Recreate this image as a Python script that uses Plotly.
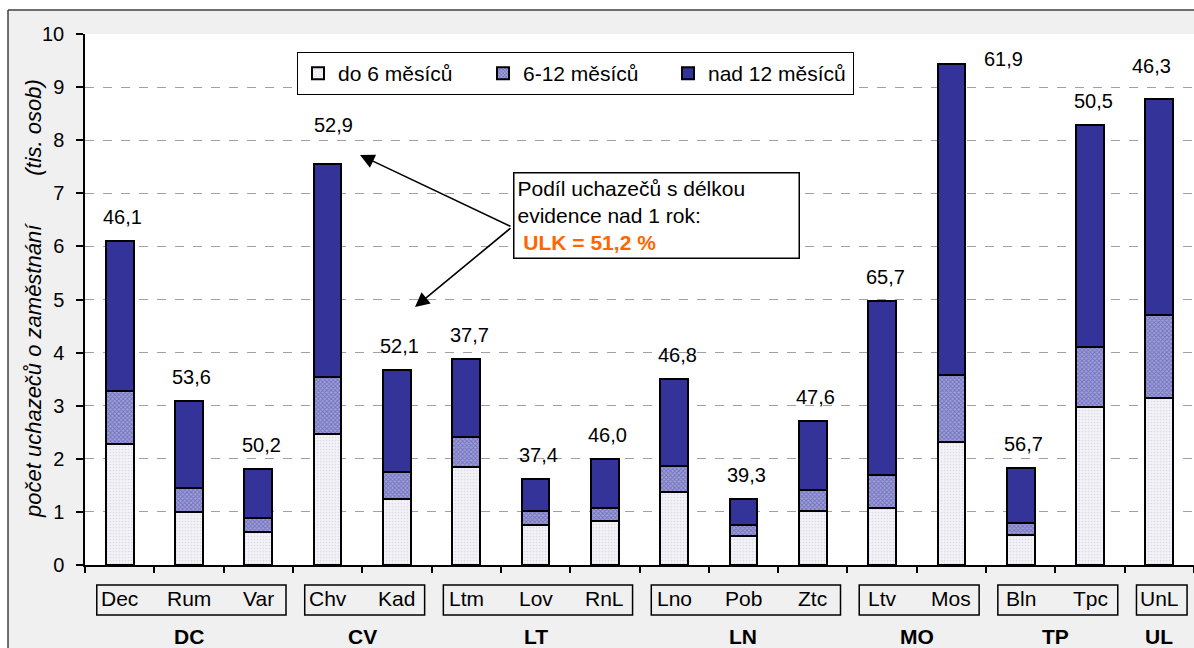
import plotly.graph_objects as go

# ---------------- data ----------------
categories = ["Dec", "Rum", "Var", "Chv", "Kad", "Ltm", "Lov", "RnL",
              "Lno", "Pob", "Ztc", "Ltv", "Mos", "Bln", "Tpc", "UnL"]
groups = ["DC", "DC", "DC", "CV", "CV", "LT", "LT", "LT",
          "LN", "LN", "LN", "MO", "MO", "TP", "TP", "UL"]
do6 = [2.28, 1.00, 0.62, 2.47, 1.24, 1.85, 0.75, 0.83,
       1.37, 0.55, 1.02, 1.07, 2.32, 0.57, 2.98, 3.15]
m6_12 = [1.00, 0.45, 0.27, 1.07, 0.51, 0.56, 0.27, 0.24,
         0.49, 0.20, 0.40, 0.63, 1.26, 0.23, 1.13, 1.56]
nad12 = [2.82, 1.64, 0.92, 4.01, 1.92, 1.47, 0.60, 0.93,
         1.64, 0.49, 1.29, 3.27, 5.86, 1.03, 4.18, 4.07]
share = [46.1, 53.6, 50.2, 52.9, 52.1, 37.7, 37.4, 46.0,
         46.8, 39.3, 47.6, 65.7, 61.9, 56.7, 50.5, 46.3]
series_names = ["do 6 měsíců", "6-12 měsíců", "nad 12 měsíců"]
y_ticks = list(range(0, 11))
y_title = "počet uchazečů o zaměstnání" + "\u00a0" * 8 + "(tis. osob)"

# ---------------- style ----------------
FONT = "Liberation Sans, Arial, sans-serif"
W, H = 1194, 648
ML, MR, MT, MB = 85, 0, 34, 83
PW, PH = W - ML - MR, H - MT - MB
n = len(categories)


def px_x(p):  # pixel -> paper x
    return (p - ML) / PW


def px_y(p):  # pixel -> paper y
    return (H - MB - p) / PH


def idx_paper(i):  # category index -> paper x
    return (i + 0.5) / n


fig = go.Figure()
fig.add_trace(go.Bar(
    x=categories, y=do6, name=series_names[0],
    marker=dict(color="#EDEDF3", line=dict(color="black", width=2),
                pattern=dict(shape=".", fgcolor="#C4C4D2", bgcolor="#F2F2F7",
                             size=3, solidity=0.25)),
))
fig.add_trace(go.Bar(
    x=categories, y=m6_12, name=series_names[1],
    marker=dict(color="#8080C8", line=dict(color="black", width=2),
                pattern=dict(shape="x", fgcolor="#44449E", bgcolor="#A0A0DA",
                             size=3, solidity=0.5)),
))
fig.add_trace(go.Bar(
    x=categories, y=nad12, name=series_names[2],
    marker=dict(color="#333399", line=dict(color="black", width=2)),
))

totals = [a + b + c for a, b, c in zip(do6, m6_12, nad12)]

# label offsets (pixels) for labels that are not directly above their bar
label_shift = {"Chv": (6, 39), "Mos": (52, 5), "UnL": (-8, 33)}

annotations = []
for cat, tot, s in zip(categories, totals, share):
    dx, dy = label_shift.get(cat, (3, 24))
    annotations.append(dict(
        x=cat, y=tot, xref="x", yref="y", text=f"{s:.1f}".replace(".", ","),
        showarrow=False, xanchor="center", yanchor="middle",
        xshift=dx, yshift=dy, font=dict(size=20, color="black", family=FONT)))

# category labels
for cat in categories:
    annotations.append(dict(
        x=cat, y=px_y(598), xref="x", yref="paper", text=cat, showarrow=False,
        xanchor="center", yanchor="middle",
        font=dict(size=21, color="black", family=FONT)))

# group labels and boxes
shapes = []
seen = []
for g in groups:
    if g not in seen:
        seen.append(g)
for g in seen:
    idxs = [i for i, gg in enumerate(groups) if gg == g]
    first, last = idxs[0], idxs[-1]
    mid = (first + last) / 2
    annotations.append(dict(
        x=idx_paper(mid), y=px_y(636), xref="paper", yref="paper",
        text=f"<b>{g}</b>", showarrow=False, xanchor="center", yanchor="middle",
        font=dict(size=21, color="black", family=FONT)))
    shapes.append(dict(
        type="rect", xref="paper", yref="paper",
        x0=idx_paper(first - 0.33), x1=idx_paper(last + 0.40),
        y0=px_y(615), y1=px_y(585),
        line=dict(color="black", width=1.5), fillcolor="rgba(0,0,0,0)"))

# y-axis title (rotated)
annotations.append(dict(
    x=px_x(33), y=px_y(299), xref="paper", yref="paper", textangle=-90,
    text=f"<i>{y_title}</i>", showarrow=False, xanchor="center", yanchor="middle",
    font=dict(size=22, color="black", family=FONT)))

# info box with arrows
annotations.append(dict(
    x=px_x(513), y=px_y(172), xref="paper", yref="paper",
    xanchor="left", yanchor="top", align="left", valign="top",
    text=("Podíl uchazečů s délkou<br>evidence nad 1 rok:<br>"
          "\u00a0<b><span style='color:#FF6600'>ULK = 51,2 %</span></b>"),
    showarrow=False, bgcolor="white", bordercolor="black", borderwidth=1.5,
    borderpad=3, width=278, height=78,
    font=dict(size=21, color="black", family=FONT)))
for tip_x, tip_y in [(360, 155), (415, 307)]:
    annotations.append(dict(
        x=px_x(tip_x), y=px_y(tip_y), xref="paper", yref="paper",
        ax=512 - tip_x, ay=227 - tip_y, axref="pixel", ayref="pixel",
        text="", showarrow=True, arrowhead=2, arrowsize=1.8, arrowwidth=1.6,
        arrowcolor="black", standoff=0, startstandoff=0))

# outer frame: gray paper, white outside the frame
frame_x = px_x(8)
frame_y = px_y(10)
shapes += [
    dict(type="rect", xref="paper", yref="paper", x0=-0.3, x1=frame_x,
         y0=-0.5, y1=1.5, fillcolor="white", line=dict(width=0), layer="below"),
    dict(type="rect", xref="paper", yref="paper", x0=-0.3, x1=1.3,
         y0=frame_y, y1=1.5, fillcolor="white", line=dict(width=0), layer="below"),
    dict(type="line", xref="paper", yref="paper", x0=frame_x, x1=frame_x,
         y0=-0.5, y1=frame_y, line=dict(color="#404040", width=1.5)),
    dict(type="line", xref="paper", yref="paper", x0=frame_x, x1=1.3,
         y0=frame_y, y1=frame_y, line=dict(color="#404040", width=1.5)),
]

fig.update_layout(
    width=W, height=H, barmode="stack", bargap=0.6,
    margin=dict(l=ML, r=MR, t=MT, b=MB, autoexpand=False),
    paper_bgcolor="#F0F0F0", plot_bgcolor="white",
    font=dict(family=FONT, size=20, color="black"),
    showlegend=True,
    legend=dict(orientation="h", x=px_x(297), y=px_y(52),
                xanchor="left", yanchor="top", bgcolor="white",
                bordercolor="black", borderwidth=1,
                font=dict(size=21, family=FONT, color="black"),
                entrywidth=140, entrywidthmode="pixels", traceorder="normal"),
    annotations=annotations, shapes=shapes,
    hovermode=False,
)
fig.update_xaxes(
    type="category", categoryorder="array", categoryarray=categories,
    range=[-0.5, n - 0.5], showticklabels=False, tickson="boundaries",
    ticks="outside", ticklen=6, tickwidth=1.5, tickcolor="black",
    showline=True, linecolor="black", linewidth=2, showgrid=False,
    fixedrange=True,
)
fig.update_yaxes(
    range=[0, 10], tickvals=y_ticks, ticks="outside", ticklen=7,
    tickwidth=1.5, tickcolor="black", ticklabelstandoff=8,
    showline=True, linecolor="black", linewidth=1.5,
    showgrid=True, gridcolor="#A0A0A0", gridwidth=1, griddash="9px,9px",
    zeroline=False, tickfont=dict(size=20, family=FONT),
    fixedrange=True,
)

fig.write_html(
    "out.html",
    config={"displayModeBar": False},
    post_script="document.body.style.margin='0px';document.body.style.overflow='hidden';",
)
